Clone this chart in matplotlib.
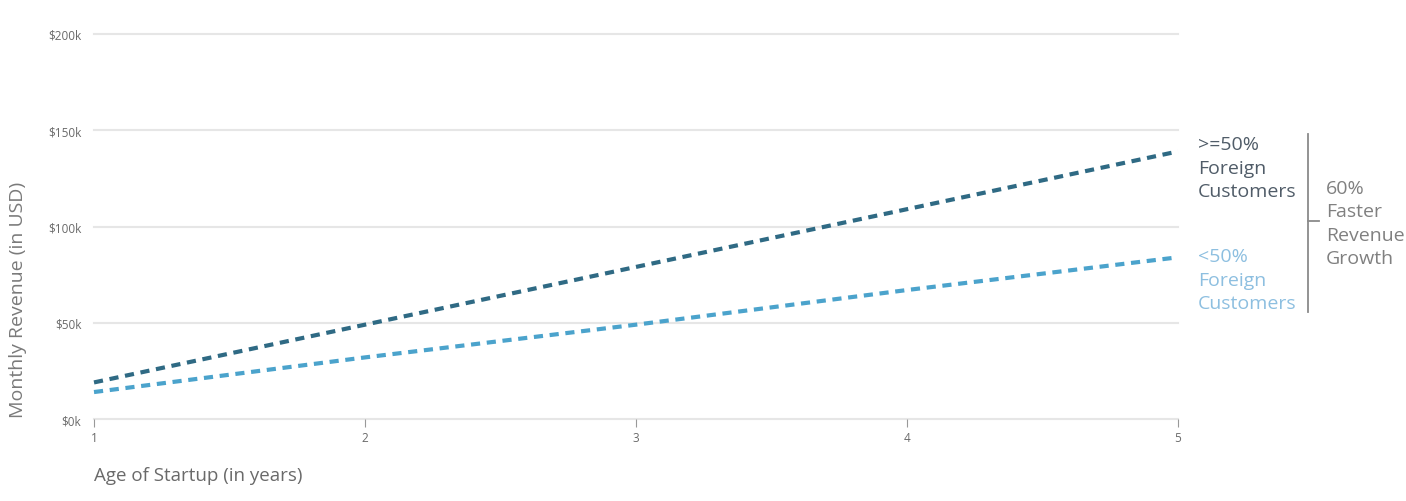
import matplotlib.pyplot as plt
from matplotlib.lines import Line2D

plt.rcParams['font.family'] = ['Open Sans', 'DejaVu Sans']

# data (monthly revenue in $k by startup age)
ages = [1, 2, 3, 4, 5]
rev_foreign_hi = [19, 49, 79, 109, 139]   # >=50% foreign customers
rev_foreign_lo = [14, 32, 49, 67, 84]     # <50% foreign customers
y_ticks = [0, 50, 100, 150, 200]
y_tick_labels = ['$0k', '$50k', '$100k', '$150k', '$200k']

dark = '#2f6a84'
light = '#4ba3cc'
grid_c = '#e6e6e6'
tick_c = '#6a6a6a'

fig = plt.figure(figsize=(14.06, 5.02), dpi=100)
ax = fig.add_axes([94 / 1406, 1 - 420 / 502, (1178 - 94) / 1406, (420 - 35) / 502])

ax.plot(ages, rev_foreign_hi, color=dark, lw=3, ls=(0, (2.2, 1.6)), clip_on=False, zorder=3)
ax.plot(ages, rev_foreign_lo, color=light, lw=3, ls=(0, (2.2, 1.6)), clip_on=False, zorder=3)

ax.set_xlim(1, 5)
ax.set_ylim(0, 200)
ax.set_yticks(y_ticks)
ax.set_yticklabels(y_tick_labels)
ax.set_xticks(ages)
for v in y_ticks:
    ax.axhline(v, color=grid_c, lw=1.5, zorder=1, clip_on=False)

for s in ax.spines.values():
    s.set_visible(False)
ax.tick_params(axis='y', length=0, pad=9, labelsize=8.5, labelcolor=tick_c)
ax.tick_params(axis='x', length=6, width=0.8, color='#999999', pad=3,
               labelsize=8.5, labelcolor=tick_c)

ax.set_ylabel('Monthly Revenue (in USD)', fontsize=14, color='#7a7a7a', loc='bottom')
ax.yaxis.set_label_coords(-67 / 1084, 2 / 385)
ax.set_xlabel('Age of Startup (in years)', fontsize=13.5, color='#6a6a6a', ha='left')
ax.xaxis.set_label_coords(0, -0.122)

# series labels on the right
fig.text(1198 / 1406, 1 - 136 / 502, '>=50%\nForeign\nCustomers', fontsize=14,
         color='#505c68', va='top', ha='left', linespacing=1.4)
fig.text(1198 / 1406, 1 - 248 / 502, '<50%\nForeign\nCustomers', fontsize=14,
         color='#8dbfe0', va='top', ha='left', linespacing=1.4)

# bracket
fig.add_artist(Line2D([1308 / 1406, 1308 / 1406], [1 - 135 / 502, 1 - 313 / 502],
                      color='#8a8a8a', lw=1.3))
fig.add_artist(Line2D([1308 / 1406, 1319 / 1406], [1 - 222 / 502, 1 - 222 / 502],
                      color='#8a8a8a', lw=1.3))
fig.text(1326 / 1406, 1 - 224 / 502, '60%\nFaster\nRevenue\nGrowth', fontsize=14,
         color='#808080', va='center', ha='left', linespacing=1.4)

fig.savefig('out.png', dpi=100, facecolor='white')
